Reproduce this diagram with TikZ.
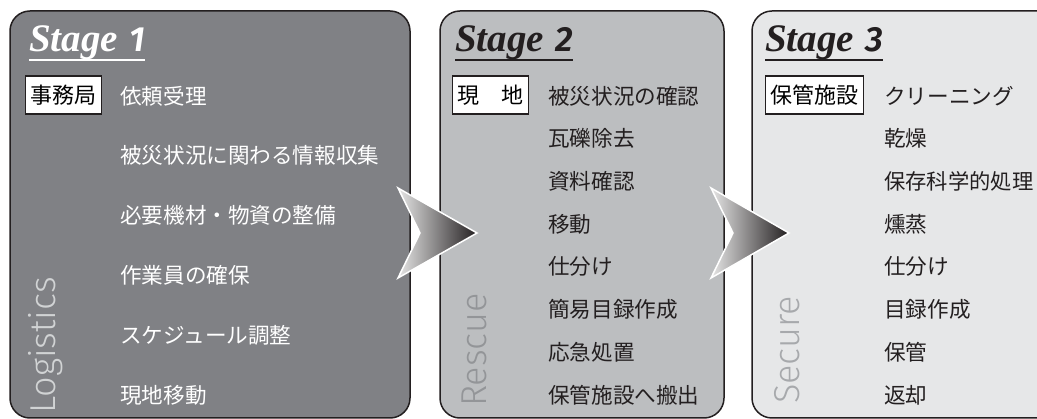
\documentclass[tikz,border=0pt]{standalone}
\usepackage{fontspec}
\setmainfont{Liberation Serif}
\newfontfamily\jp{Noto Sans CJK JP}
\newfontfamily\lightsf{Fira Sans Light}
\usetikzlibrary{calc}
\definecolor{ink}{HTML}{231F20}
\definecolor{fillA}{HTML}{808185}
\definecolor{fillB}{HTML}{BCBEC0}
\definecolor{fillC}{HTML}{E6E7E8}
\definecolor{vA}{HTML}{D1D3D4}
\definecolor{vB}{HTML}{939598}
\definecolor{vC}{HTML}{A7A9AC}
\begin{document}
\begin{tikzpicture}[x=1pt,y=-1pt,
  panel/.style={draw=ink, line width=1.5pt, rounded corners=20pt},
  stagelbl/.style={anchor=base west, inner sep=0pt, font=\fontsize{39}{39}\selectfont\bfseries\itshape},
  uline/.style={line width=2pt},
  tagbox/.style={draw=ink, fill=white, line width=1.2pt, inner xsep=5pt, inner ysep=0pt,
    minimum height=38pt, anchor=west, font=\jp\fontsize{22}{22}\selectfont, text=black},
  item/.style={anchor=west, inner sep=0pt, font=\jp\fontsize{21.6}{22}\selectfont},
  vert/.style={rotate=90, anchor=base west, inner sep=0pt, font=\lightsf\fontsize{36}{36}\selectfont},
  chevron/.style={left color=gray!20, right color=ink, draw=white, line width=1.5pt}
]
\useasboundingbox (0,0) rectangle (1037,419);

% panels
\draw[panel, fill=fillA] (10,11) rectangle (410,418);
\draw[panel, fill=fillB] (440,11) rectangle (724,418);
\draw[panel, fill=fillC] (752,11) rectangle (1080,418);

% Stage headings
\node[stagelbl, text=white] (s1) at (29,52) {Stage\hspace{11pt}{\lightsf\fontsize{35}{35}\selectfont 1}};
\draw[uline, white] ([yshift=-8pt]s1.base west) -- ([yshift=-8pt]s1.base east);
\node[stagelbl, text=ink] (s2) at (455,52) {Stage\hspace{11pt}{\lightsf\fontsize{35}{35}\selectfont 2}};
\draw[uline, ink] ([yshift=-8pt]s2.base west) -- ([yshift=-8pt]s2.base east);
\node[stagelbl, text=ink] (s3) at (765,52) {Stage\hspace{11pt}{\lightsf\fontsize{35}{35}\selectfont 3}};
\draw[uline, ink] ([yshift=-8pt]s3.base west) -- ([yshift=-8pt]s3.base east);

% tag boxes
\node[tagbox] (t1) at (25,95) {事務局};
\node[tagbox] (t2) at (452,95) {現　地};
\node[tagbox] (t3) at (765,95) {保管施設};

% Stage 1 items
\begin{scope}[every node/.append style={item, text=white}]
\node (a1) at (120,96.0) {依頼受理};
\node (a2) at (120,155.8) {被災状況に関わる情報収集};
\node (a3) at (120,215.6) {必要機材・物資の整備};
\node (a4) at (120,275.4) {作業員の確保};
\node (a5) at (120,335.2) {スケジュール調整};
\node (a6) at (120,395.0) {現地移動};
\end{scope}

% Stage 2 items
\begin{scope}[every node/.append style={item, text=ink}]
\node (b1) at (548,96.0) {被災状況の確認};
\node (b2) at (548,138.7) {瓦礫除去};
\node (b3) at (548,181.4) {資料確認};
\node (b4) at (548,224.1) {移動};
\node (b5) at (548,266.8) {仕分け};
\node (b6) at (548,309.5) {簡易目録作成};
\node (b7) at (548,352.2) {応急処置};
\node (b8) at (548,394.9) {保管施設へ搬出};
\end{scope}

% Stage 3 items
\begin{scope}[every node/.append style={item, text=ink}]
\node (c1) at (884,96.0) {クリーニング};
\node (c2) at (884,138.7) {乾燥};
\node[font=\jp\fontsize{21.3}{22}\selectfont] (c3) at (884,181.4) {保存科学的処理};
\node (c4) at (884,224.1) {燻蒸};
\node (c5) at (884,266.8) {仕分け};
\node (c6) at (884,309.5) {目録作成};
\node (c7) at (884,352.2) {保管};
\node (c8) at (884,394.9) {返却};
\end{scope}

% vertical labels
\node[vert, text=vA] (v1) at (56,414) {Logistics};
\node[vert, text=vB] (v2) at (486,407) {Rescue};
\node[vert, text=vC] (v3) at (799,404) {Secure};

% chevrons
\shadedraw[chevron] (398,188) -- (477,233) -- (398,278) -- (420,233) -- cycle;
\shadedraw[chevron] (711,188) -- (789,233) -- (711,278) -- (733,233) -- cycle;
\end{tikzpicture}
\end{document}
